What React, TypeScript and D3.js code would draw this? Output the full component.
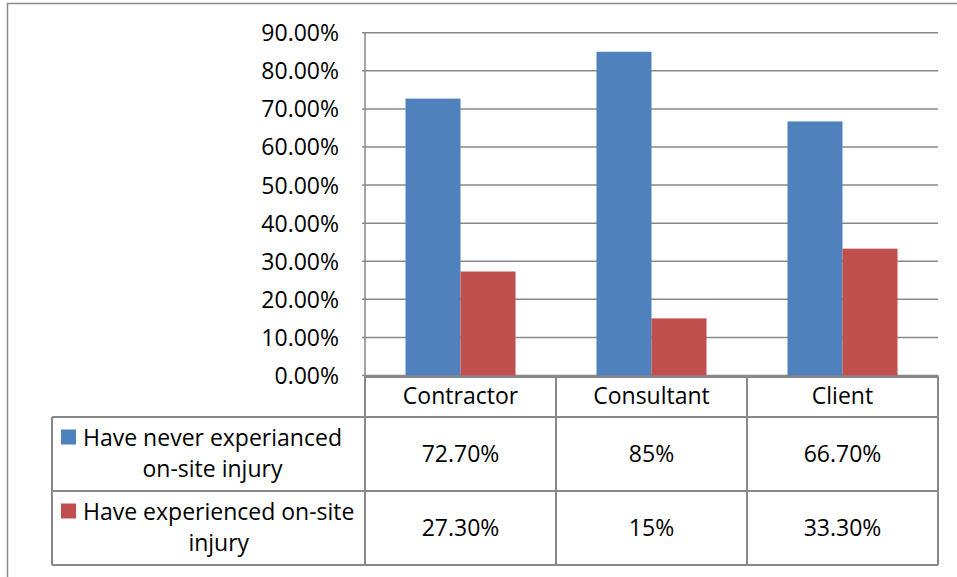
import React, { useEffect, useRef } from "react";
import * as d3 from "d3";

// chart data
const categories = ["Contractor", "Consultant", "Client"];
const seriesNames = ["Have never experianced on-site injury", "Have experienced on-site injury"];
const neverInjured = [0.727, 0.85, 0.667];
const injured = [0.273, 0.15, 0.333];
const neverLabels = ["72.70%", "85%", "66.70%"];
const injuredLabels = ["27.30%", "15%", "33.30%"];
const legendLines = [
  ["Have never experianced", "on-site injury"],
  ["Have experienced on-site", "injury"],
];
const yTicks = [0, 0.1, 0.2, 0.3, 0.4, 0.5, 0.6, 0.7, 0.8, 0.9];

const colors = ["#4F81BD", "#C0504D"];
const lineColor = "#888888";
const font = "'Open Sans', sans-serif";

const App: React.FC = () => {
  const svgRef = useRef<SVGSVGElement>(null);

  useEffect(() => {
    if (!svgRef.current) return;
    document.body.style.margin = "0";
    const svg = d3.select(svgRef.current);
    svg.selectAll("*").remove();

    const width = 957;
    const height = 577;
    const plotLeft = 365;
    const plotRight = 938;
    const plotTop = 32.7;
    const plotBottom = 375.5;

    // outer chart frame (cut by the picture edge)
    svg
      .append("path")
      .attr("d", `M7.5,${height + 2} V3.5 H${width + 2}`)
      .attr("fill", "none")
      .attr("stroke", lineColor)
      .attr("stroke-width", 1.5);

    const x = d3
      .scaleBand<string>()
      .domain(categories)
      .range([plotLeft, plotRight])
      .paddingInner(0.424)
      .paddingOuter(0.212);

    const xSeries = d3
      .scaleBand<string>()
      .domain(["0", "1"])
      .range([0, x.bandwidth()]);

    const y = d3.scaleLinear().domain([0, 0.9]).range([plotBottom, plotTop]);

    // gridlines
    svg
      .append("g")
      .selectAll("line")
      .data(yTicks)
      .enter()
      .append("line")
      .attr("x1", plotLeft - 3)
      .attr("x2", plotRight)
      .attr("y1", (d) => y(d))
      .attr("y2", (d) => y(d))
      .attr("stroke", lineColor)
      .attr("stroke-width", 1.5);

    // y tick labels
    svg
      .append("g")
      .selectAll("text")
      .data(yTicks)
      .enter()
      .append("text")
      .attr("x", 339)
      .attr("y", (d) => y(d) + 8.5)
      .attr("text-anchor", "end")
      .style("font-family", font)
      .style("font-size", "23px")
      .style("fill", "#000")
      .text((d) => d3.format(".2%")(d));

    // bars
    const series = [neverInjured, injured];
    series.forEach((values, si) => {
      svg
        .append("g")
        .selectAll("rect")
        .data(values)
        .enter()
        .append("rect")
        .attr("x", (_, i) => (x(categories[i]) as number) + (xSeries(String(si)) as number))
        .attr("width", xSeries.bandwidth())
        .attr("y", (d) => y(d))
        .attr("height", (d) => y(0) - y(d))
        .attr("fill", colors[si]);
    });

    // y axis line
    svg
      .append("line")
      .attr("x1", plotLeft)
      .attr("x2", plotLeft)
      .attr("y1", plotTop)
      .attr("y2", plotBottom)
      .attr("stroke", lineColor)
      .attr("stroke-width", 1.5);

    // data table
    const tableLeft = 52;
    const headerTop = 377;
    const rowTops = [417, 491, 565];
    const colEdges = [plotLeft, ...categories.map((c) => (x(c) as number) + x.bandwidth() + (x.step() - x.bandwidth()) / 2)];
    const table = svg.append("g").attr("stroke", lineColor).attr("stroke-width", 2);

    table.append("line").attr("x1", plotLeft).attr("x2", plotRight).attr("y1", headerTop).attr("y2", headerTop);
    rowTops.forEach((ry) => {
      table.append("line").attr("x1", tableLeft).attr("x2", plotRight).attr("y1", ry).attr("y2", ry);
    });
    table.append("line").attr("x1", tableLeft).attr("x2", tableLeft).attr("y1", rowTops[0]).attr("y2", rowTops[2]);
    colEdges.forEach((cx) => {
      table.append("line").attr("x1", cx).attr("x2", cx).attr("y1", plotBottom).attr("y2", rowTops[2]);
    });

    // category labels
    svg
      .append("g")
      .selectAll("text")
      .data(categories)
      .enter()
      .append("text")
      .attr("x", (d) => (x(d) as number) + x.bandwidth() / 2)
      .attr("y", 404)
      .attr("text-anchor", "middle")
      .style("font-family", font)
      .style("font-size", "23px")
      .style("fill", "#000")
      .text((d) => d);

    // values in table
    [neverLabels, injuredLabels].forEach((labels, si) => {
      const rowCenter = (rowTops[si] + rowTops[si + 1]) / 2;
      svg
        .append("g")
        .selectAll("text")
        .data(labels)
        .enter()
        .append("text")
        .attr("x", (_, i) => (x(categories[i]) as number) + x.bandwidth() / 2)
        .attr("y", rowCenter + 8)
        .attr("text-anchor", "middle")
        .style("font-family", font)
        .style("font-size", "23px")
        .style("fill", "#000")
        .text((d) => d);
    });

    // legend keys in the table
    legendLines.forEach((lines, si) => {
      const rowCenter = (rowTops[si] + rowTops[si + 1]) / 2;
      const base1 = rowCenter - 8.5;
      const base2 = rowCenter + 22.5;
      const g = svg.append("g").attr("aria-label", seriesNames[si]);
      g.append("rect")
        .attr("x", 61)
        .attr("y", base1 - 16)
        .attr("width", 15)
        .attr("height", 15)
        .attr("fill", colors[si]);
      const t1 = g
        .append("text")
        .attr("x", 83)
        .attr("y", base1)
        .style("font-family", font)
        .style("font-size", "23px")
        .style("fill", "#000")
        .text(lines[0]);
      const w = (t1.node() as SVGTextElement).getComputedTextLength();
      g.append("text")
        .attr("x", 83 + w / 2)
        .attr("y", base2)
        .attr("text-anchor", "middle")
        .style("font-family", font)
        .style("font-size", "23px")
        .style("fill", "#000")
        .text(lines[1]);
    });
  }, []);

  return (
    <svg
      ref={svgRef}
      width={957}
      height={577}
      style={{ position: "absolute", left: 0, top: 0, background: "#fff" }}
    />
  );
};

export default App;
